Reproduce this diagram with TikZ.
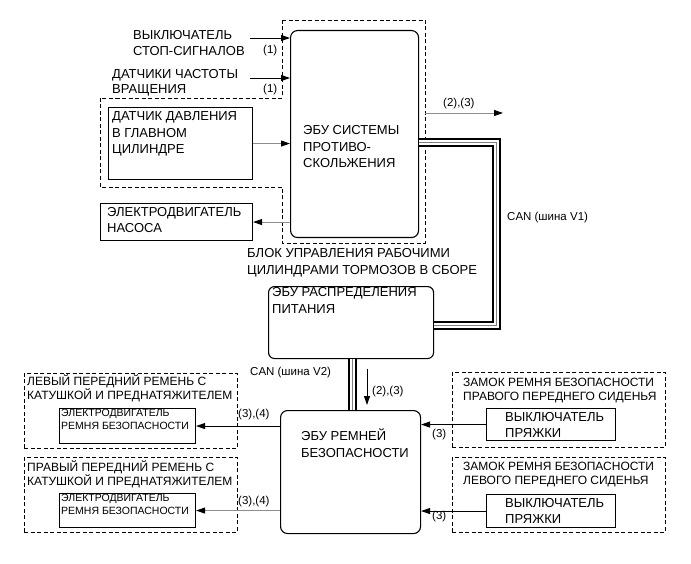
\documentclass[tikz,border=0pt]{standalone}
\usepackage{fontspec}
\setmainfont{Liberation Sans}
\usetikzlibrary{arrows.meta}
\begin{document}
\begin{tikzpicture}[x=1pt,y=-1pt,
  box/.style={draw, line width=1.1pt, inner sep=0pt, anchor=north west},
  ecu/.style={box, rounded corners=7pt},
  grp/.style={draw, line width=0.8pt, dash pattern=on 4pt off 2.5pt},
  grpbox/.style={grp, inner sep=0pt, anchor=north west},
  txt/.style={anchor=base west, inner sep=0pt, align=left, font=\fontsize{13}{16.5}\selectfont},
  ttl/.style={txt, font=\fontsize{12}{14}\selectfont},
  sml/.style={txt, font=\fontsize{10.5}{12.5}\selectfont},
  lbl/.style={anchor=base west, inner sep=0pt, font=\fontsize{11.5}{13}\selectfont},
  arr/.style={line width=0.9pt, -{Triangle[length=9pt,width=6pt]}},
  garr/.style={line width=0.9pt, draw=black!45, -{Triangle[length=9pt,width=6pt,color=black]}},
  can/.style={line width=9pt, line join=miter,
    postaction={draw=white, line width=5pt},
    postaction={draw=black!50, line width=1pt}}
]
\fill[white] (0,0) rectangle (691,564);
\useasboundingbox (0,0) rectangle (691,564);

% dashed group: brake actuator
\draw[grp] (282,20) -- (425,20) -- (425,243) -- (282,243) -- (282,187) -- (100,187) -- (100,98) -- (282,98) -- cycle;

% main boxes
\node[ecu, minimum width=128pt, minimum height=207pt] (abs) at (290,30) {};
\node[box, minimum width=144pt, minimum height=72pt] (mc) at (108,107) {};
\node[box, minimum width=152pt, minimum height=37pt] (pump) at (100,203) {};
\node[ecu, rounded corners=6pt, minimum width=165pt, minimum height=72pt] (pdu) at (268,286) {};
\node[ecu, minimum width=140pt, minimum height=123pt] (belt) at (280,410) {};

% dashed groups bottom
\node[grpbox, minimum width=213pt, minimum height=75pt] (gl1) at (24,373) {};
\node[grpbox, minimum width=213pt, minimum height=75pt] (gl2) at (24,457) {};
\node[grpbox, minimum width=213pt, minimum height=75pt] (gr1) at (452,372) {};
\node[grpbox, minimum width=213pt, minimum height=75pt] (gr2) at (452,457) {};

\node[box, minimum width=136pt, minimum height=35pt] (lm) at (59,408) {};
\node[box, minimum width=136pt, minimum height=34pt] (rm) at (59,493) {};
\node[box, minimum width=129pt, minimum height=32pt] (rb) at (486,408) {};
\node[box, minimum width=129pt, minimum height=33pt] (lb) at (486,494) {};

% texts (positioned at baseline of last line)
\node[txt] (tstop) at (133,56) {ВЫКЛЮЧАТЕЛЬ\\СТОП-СИГНАЛОВ};
\node[txt, font=\fontsize{13}{15.5}\selectfont] (tspd) at (112,94) {ДАТЧИКИ ЧАСТОТЫ\\ВРАЩЕНИЯ};
\node[txt] (tmc) at (112,154) {ДАТЧИК ДАВЛЕНИЯ\\В ГЛАВНОМ\\ЦИЛИНДРЕ};
\node[txt] (tpump) at (107,233) {ЭЛЕКТРОДВИГАТЕЛЬ\\НАСОСА};
\node[txt] (tabs) at (303,168) {ЭБУ СИСТЕМЫ\\ПРОТИВО-\\СКОЛЬЖЕНИЯ};
\node[txt, font=\fontsize{13}{17.5}\selectfont] (tblk) at (247,275) {БЛОК УПРАВЛЕНИЯ РАБОЧИМИ\\ЦИЛИНДРАМИ ТОРМОЗОВ В СБОРЕ};
\node[txt] (tpdu) at (272,313) {ЭБУ РАСПРЕДЕЛЕНИЯ\\ПИТАНИЯ};
\node[txt] (tbelt) at (301,457) {ЭБУ РЕМНЕЙ\\БЕЗОПАСНОСТИ};

\node[ttl] (tgl1) at (27,399) {ЛЕВЫЙ ПЕРЕДНИЙ РЕМЕНЬ С\\КАТУШКОЙ И ПРЕДНАТЯЖИТЕЛЕМ};
\node[ttl] (tgl2) at (27,485) {ПРАВЫЙ ПЕРЕДНИЙ РЕМЕНЬ С\\КАТУШКОЙ И ПРЕДНАТЯЖИТЕЛЕМ};
\node[ttl] (tgr1) at (463,400) {ЗАМОК РЕМНЯ БЕЗОПАСНОСТИ\\ПРАВОГО ПЕРЕДНЕГО СИДЕНЬЯ};
\node[ttl] (tgr2) at (463,484) {ЗАМОК РЕМНЯ БЕЗОПАСНОСТИ\\ЛЕВОГО ПЕРЕДНЕГО СИДЕНЬЯ};

\node[sml] (tlm) at (61,429) {ЭЛЕКТРОДВИГАТЕЛЬ\\РЕМНЯ БЕЗОПАСНОСТИ};
\node[sml] (trm) at (61,514) {ЭЛЕКТРОДВИГАТЕЛЬ\\РЕМНЯ БЕЗОПАСНОСТИ};
\node[txt, font=\fontsize{13}{16}\selectfont] (trb) at (505,437) {ВЫКЛЮЧАТЕЛЬ\\ПРЯЖКИ};
\node[txt, font=\fontsize{13}{16}\selectfont] (tlb) at (505,523) {ВЫКЛЮЧАТЕЛЬ\\ПРЯЖКИ};

% labels
\node[lbl] (l1a) at (263,54) {(1)};
\node[lbl] (l1b) at (263,93) {(1)};
\node[lbl] (l23a) at (443,107) {(2),(3)};
\node[lbl] (lcan1) at (507,221) {CAN (шина V1)};
\node[lbl] (lcan2) at (250,375) {CAN (шина V2)};
\node[lbl] (l23b) at (372,394) {(2),(3)};
\node[lbl] (l34a) at (238,417) {(3),(4)};
\node[lbl] (l34b) at (238,504) {(3),(4)};
\node[lbl] (l3a) at (432,437) {(3)};
\node[lbl] (l3b) at (432,519) {(3)};

% connectors
\coordinate (s1) at (250,38);
\coordinate (s2) at (250,78);
\draw[arr] (s1) -- (s1 -| abs.west);
\draw[arr] (s2) -- (s2 -| abs.west);
\draw[garr] (mc.east) -- (mc.east -| abs.west);
\draw[garr] (abs.west |- pump.east) -- (pump.east);
\coordinate (o1) at (425,113);
\coordinate (o2) at (503,113);
\draw[garr] (o1) -- (o2);

\coordinate (c1) at (496,143);
\coordinate (c2) at (496,325);
\draw[can] (abs.east |- c1) -- (c1) -- (c2) -- (c2 -| pdu.east);
\coordinate (v) at (352,0);
\draw[can] (pdu.south -| v) -- (belt.north -| v);

\coordinate (d1) at (367,369);
\coordinate (d2) at (367,405);
\draw[arr] (d1) -- (d2);

\draw[arr] (belt.west |- lm.east) -- (lm.east);
\draw[garr] (belt.west |- rm.east) -- (rm.east);
\draw[arr] (rb.west) -- (rb.west -| belt.east);
\draw[arr] (lb.west) -- (lb.west -| belt.east);
\end{tikzpicture}
\end{document}
